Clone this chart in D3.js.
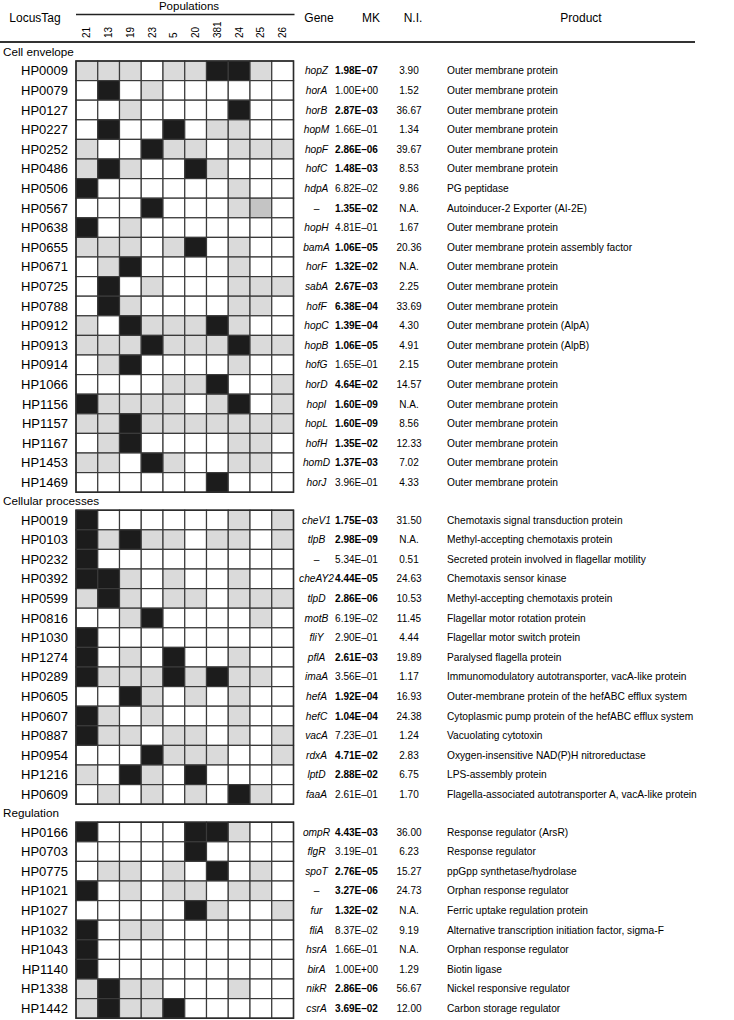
<!DOCTYPE html>
<html><head><meta charset="utf-8">
<script src="https://cdn.jsdelivr.net/npm/d3@7"></script>
<style>body{margin:0;background:#fff} svg{display:block}</style>
</head><body>
<svg id="chart" width="734" height="1020"></svg>
<script>
const populations = ["21","13","19","23","5","20","381","24","25","26"];
const sections = ["Cell envelope","Cellular processes","Regulation"];
const sectionSizes = [22,15,10];
const locusTags = ["HP0009","HP0079","HP0127","HP0227","HP0252","HP0486","HP0506","HP0567","HP0638","HP0655","HP0671","HP0725","HP0788","HP0912","HP0913","HP0914","HP1066","HP1156","HP1157","HP1167","HP1453","HP1469",
"HP0019","HP0103","HP0232","HP0392","HP0599","HP0816","HP1030","HP1274","HP0289","HP0605","HP0607","HP0887","HP0954","HP1216","HP0609",
"HP0166","HP0703","HP0775","HP1021","HP1027","HP1032","HP1043","HP1140","HP1338","HP1442"];
const genes = ["hopZ","horA","horB","hopM","hopF","hofC","hdpA","–","hopH","bamA","horF","sabA","hofF","hopC","hopB","hofG","horD","hopI","hopL","hofH","homD","horJ",
"cheV1","tlpB","–","cheAY2","tlpD","motB","fliY","pflA","imaA","hefA","hefC","vacA","rdxA","lptD","faaA",
"ompR","flgR","spoT","–","fur","fliA","hsrA","birA","nikR","csrA"];
const mkValues = [1.98e-7,1.00e0,2.87e-3,1.66e-1,2.86e-6,1.48e-3,6.82e-2,1.35e-2,4.81e-1,1.06e-5,1.32e-2,2.67e-3,6.38e-4,1.39e-4,1.06e-5,1.65e-1,4.64e-2,1.60e-9,1.60e-9,1.35e-2,1.37e-3,3.96e-1,
1.75e-3,2.98e-9,5.34e-1,4.44e-5,2.86e-6,6.19e-2,2.90e-1,2.61e-3,3.56e-1,1.92e-4,1.04e-4,7.23e-1,4.71e-2,2.88e-2,2.61e-1,
4.43e-3,3.19e-1,2.76e-5,3.27e-6,1.32e-2,8.37e-2,1.66e-1,1.00e0,2.86e-6,3.69e-2];
const niValues = [3.90,1.52,36.67,1.34,39.67,8.53,9.86,null,1.67,20.36,null,2.25,33.69,4.30,4.91,2.15,14.57,null,8.56,12.33,7.02,4.33,
31.50,null,0.51,24.63,10.53,11.45,4.44,19.89,1.17,16.93,24.38,1.24,2.83,6.75,1.70,
36.00,6.23,15.27,24.73,null,9.19,null,1.29,56.67,12.00];
const products = ["Outer membrane protein","Outer membrane protein","Outer membrane protein","Outer membrane protein","Outer membrane protein","Outer membrane protein","PG peptidase","Autoinducer-2 Exporter (AI-2E)","Outer membrane protein","Outer membrane protein assembly factor","Outer membrane protein","Outer membrane protein","Outer membrane protein","Outer membrane protein (AlpA)","Outer membrane protein (AlpB)","Outer membrane protein","Outer membrane protein","Outer membrane protein","Outer membrane protein","Outer membrane protein","Outer membrane protein","Outer membrane protein",
"Chemotaxis signal transduction protein","Methyl-accepting chemotaxis protein","Secreted protein involved in flagellar motility","Chemotaxis sensor kinase","Methyl-accepting chemotaxis protein","Flagellar motor rotation protein","Flagellar motor switch protein","Paralysed flagella protein","Immunomodulatory autotransporter, vacA-like protein","Outer-membrane protein of the hefABC efflux system","Cytoplasmic pump protein of the hefABC efflux system","Vacuolating cytotoxin","Oxygen-insensitive NAD(P)H nitroreductase","LPS-assembly protein","Flagella-associated autotransporter A, vacA-like protein",
"Response regulator (ArsR)","Response regulator","ppGpp synthetase/hydrolase","Orphan response regulator","Ferric uptake regulation protein","Alternative transcription initiation factor, sigma-F","Orphan response regulator","Biotin ligase","Nickel responsive regulator","Carbon storage regulator"];
// 0 = white, 1 = grey, 2 = black, 3 = mid grey
const cellStates = [
[1,1,1,0,1,1,2,2,1,0],[0,2,0,1,0,0,0,0,0,0],[0,0,1,0,0,0,0,2,0,0],[0,2,0,0,2,0,1,1,0,0],[1,0,0,2,1,1,0,1,1,1],
[1,2,1,0,0,2,1,0,0,0],[2,0,0,0,0,0,0,1,0,0],[0,0,0,2,0,0,0,1,3,0],[2,0,1,0,0,0,0,0,0,0],[1,1,1,0,1,2,0,1,0,0],
[0,1,2,0,0,0,0,1,0,0],[0,2,0,1,0,0,0,1,1,1],[0,2,1,0,0,0,0,1,1,0],[1,0,2,1,1,1,2,1,0,0],[1,1,1,2,1,1,1,2,1,1],
[0,1,2,0,0,0,0,1,0,0],[0,0,0,0,1,1,2,0,0,1],[2,1,1,1,1,0,1,2,0,1],[1,1,2,1,1,1,1,1,1,1],[0,1,2,0,0,0,0,1,1,0],
[1,1,0,2,1,0,0,1,1,0],[0,0,0,0,0,0,2,0,0,0],
[2,0,0,0,0,0,0,1,0,1],[2,1,2,1,1,0,1,1,0,1],[2,0,0,0,0,0,0,0,0,0],[2,2,1,0,1,0,0,1,0,0],[1,2,1,0,1,1,0,1,1,1],
[0,0,1,2,0,0,0,0,1,0],[2,0,0,0,0,0,0,0,0,0],[2,0,1,0,2,0,0,1,0,0],[2,1,1,1,2,1,2,1,1,0],[0,0,2,1,0,1,0,1,0,0],
[2,1,0,1,0,0,0,1,0,0],[2,1,1,0,1,1,0,1,0,1],[0,0,0,2,1,1,1,0,0,1],[1,0,2,1,0,2,0,0,0,0],[0,1,0,1,0,1,0,2,1,0],
[2,0,0,0,0,2,2,1,0,0],[0,0,0,0,0,2,0,0,0,0],[0,1,1,0,1,0,2,0,1,0],[2,0,1,0,1,1,0,1,1,0],[0,0,0,0,0,2,1,0,0,1],
[2,0,1,1,0,0,0,0,0,0],[2,0,0,0,0,0,0,0,0,0],[2,0,0,0,0,0,0,0,0,0],[1,2,1,1,0,0,0,1,0,0],[1,2,1,1,2,0,0,0,0,0]
];

const FONT = "'Liberation Sans', Arial, Helvetica, sans-serif";
const svg = d3.select("#chart").style("font-family", FONT);
const fillColor = d3.scaleOrdinal().domain([0,1,2,3]).range(["#ffffff","#dadada","#1c1c1c","#c4c4c4"]);

const gridLeft = 76, gridRight = 293.5;
const x = d3.scaleBand().domain(populations).range([gridLeft, gridRight]);
const rowH = 19.6, gapH = 18, firstTop = 61;

const fmtMK = v => {
  const [m, e] = v.toExponential(2).split("e");
  const n = +e;
  return m + "E" + (n < 0 ? "–" : "+") + String(Math.abs(n)).padStart(2, "0");
};

// Header
svg.append("text").attr("x", 35).attr("y", 22).attr("text-anchor","middle").attr("font-size",12).text("LocusTag");
svg.append("text").attr("x", 189).attr("y", 10).attr("text-anchor","middle").attr("font-size",11.5).text("Populations");
svg.append("line").attr("x1", gridLeft).attr("x2", gridRight+1).attr("y1", 14.5).attr("y2", 14.5).attr("stroke","#222").attr("stroke-width",1.3);
svg.selectAll("text.pop").data(populations).join("text").attr("class","pop")
  .attr("transform", d => `translate(${x(d)+x.bandwidth()/2+3.5},38) rotate(-90)`)
  .attr("font-size",10).text(d => d);
[["Gene",319],["MK",371],["N.I.",413],["Product",581]].forEach(([t,px]) =>
  svg.append("text").attr("x", px).attr("y", 22).attr("text-anchor","middle").attr("font-size",12).text(t));
svg.append("line").attr("x1",0).attr("x2",695).attr("y1",42).attr("y2",42).attr("stroke","#333").attr("stroke-width",2);

let startIdx = 0, sectionTop = firstTop;
sections.forEach((sec, si) => {
  const n = sectionSizes[si];
  const idx = d3.range(startIdx, startIdx + n);
  const y = d3.scaleBand().domain(idx).range([sectionTop, sectionTop + n*rowH]);
  const g = svg.append("g");
  g.append("text").attr("x", 3).attr("y", sectionTop - 5).attr("font-size", 11.7).text(sec);
  const rows = g.selectAll("g.row").data(idx).join("g").attr("class","row");
  rows.selectAll("rect").data(i => cellStates[i].map((s, j) => ({i, j, s})))
    .join("rect")
    .attr("x", d => x(populations[d.j])).attr("y", d => y(d.i))
    .attr("width", x.bandwidth()).attr("height", y.bandwidth())
    .attr("fill", d => fillColor(d.s)).attr("stroke","#3a3a3a").attr("stroke-width",1.2);
  g.append("rect").attr("x", gridLeft).attr("y", sectionTop).attr("width", gridRight-gridLeft).attr("height", n*rowH)
    .attr("fill","none").attr("stroke","#2a2a2a").attr("stroke-width",1.5);
  const cy = i => y(i) + y.bandwidth()/2;
  rows.append("text").attr("x", 68).attr("y", cy).attr("dy","0.36em").attr("text-anchor","end").attr("font-size",13).text(i => locusTags[i]);
  rows.append("text").attr("x", 316.5).attr("y", cy).attr("dy","0.36em").attr("text-anchor","middle").attr("font-size",10.2)
    .attr("font-style", i => genes[i] === "–" ? "normal" : "italic").text(i => genes[i]);
  rows.append("text").attr("x", 356.5).attr("y", cy).attr("dy","0.36em").attr("text-anchor","middle").attr("font-size",10)
    .attr("font-weight", i => mkValues[i] < 0.05 ? "bold" : "normal").text(i => fmtMK(mkValues[i]));
  rows.append("text").attr("x", 409).attr("y", cy).attr("dy","0.36em").attr("text-anchor","middle").attr("font-size",10)
    .text(i => niValues[i] === null ? "N.A." : niValues[i].toFixed(2));
  rows.append("text").attr("x", 447).attr("y", cy).attr("dy","0.36em").attr("font-size",10.2).text(i => products[i]);
  startIdx += n;
  sectionTop += n*rowH + gapH;
});
</script>
</body></html>
